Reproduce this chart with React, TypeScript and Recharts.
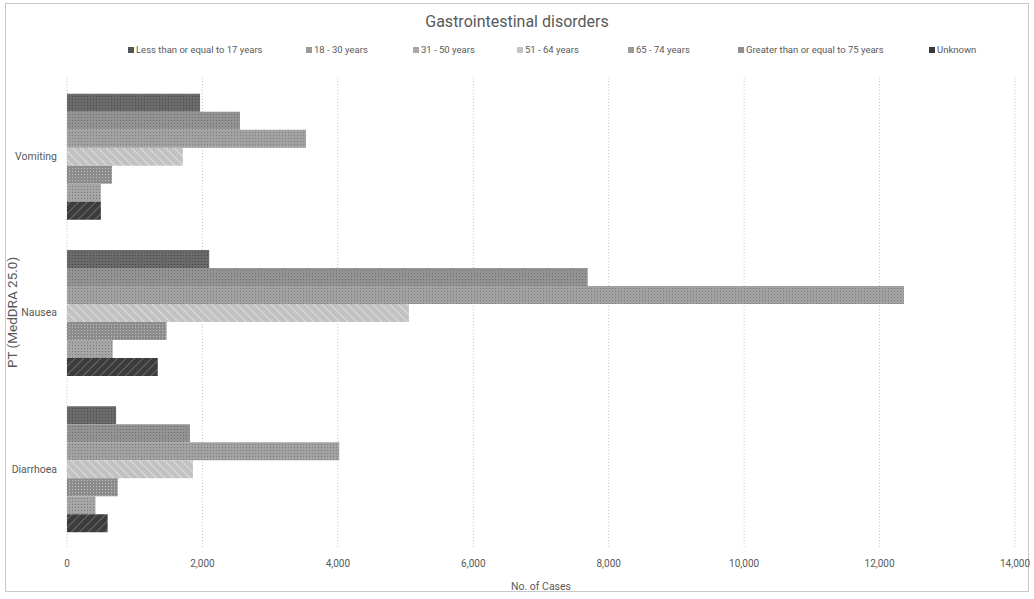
import React from 'react';
import { BarChart, Bar, XAxis, YAxis, CartesianGrid } from 'recharts';

const categories = ['Vomiting', 'Nausea', 'Diarrhoea'];
const seriesNames = [
  'Less than or equal to 17 years',
  '18 - 30 years',
  '31 - 50 years',
  '51 - 64 years',
  '65 - 74 years',
  'Greater than or equal to 75 years',
  'Unknown',
];
const le17 = [500, 1340, 600];
const y18to30 = [500, 675, 420];
const y31to50 = [665, 1470, 750];
const y51to64 = [1710, 5050, 1860];
const y65to74 = [3530, 12360, 4020];
const ge75 = [2555, 7690, 1815];
const unknown = [1965, 2100, 725];
const xTicks = [0, 2000, 4000, 6000, 8000, 10000, 12000, 14000];

const seriesValues = [le17, y18to30, y31to50, y51to64, y65to74, ge75, unknown];
const seriesFills = [
  'url(#pLe17)',
  'url(#p18)',
  'url(#p31)',
  'url(#p51)',
  'url(#p65)',
  'url(#p75)',
  'url(#pUnk)',
];
const legendSwatch = ['#555555', '#9a9a9a', '#a8a8a8', '#c4c4c4', '#9a9a9a', '#8f8f8f', '#3a3a3a'];
const legendX = [128, 306, 413, 517, 628, 738, 929];

const data = categories.map((c, i) => {
  const row: Record<string, string | number> = { name: c };
  seriesNames.forEach((s, j) => {
    row['s' + j] = seriesValues[j][i];
  });
  return row;
});

const FONT = 'Roboto, "Liberation Sans", sans-serif';
const TXT = '#595959';

function Patterns() {
  return (
    <svg width={0} height={0} style={{ position: 'absolute' }}>
      <defs>
        <pattern id="pLe17" width="6" height="6" patternUnits="userSpaceOnUse" patternTransform="rotate(45)">
          <rect width="6" height="6" fill="#3c3c3c" />
          <line x1="0" y1="0" x2="0" y2="6" stroke="#6a6a6a" strokeWidth="2" />
        </pattern>
        <pattern id="p18" width="3" height="3" patternUnits="userSpaceOnUse">
          <rect width="3" height="3" fill="#a6a6a6" />
          <rect width="1" height="1" fill="#7a7a7a" />
        </pattern>
        <pattern id="p31" width="3" height="3" patternUnits="userSpaceOnUse">
          <rect width="3" height="3" fill="#8c8c8c" />
          <rect width="1" height="1" fill="#bdbdbd" />
        </pattern>
        <pattern id="p51" width="6" height="6" patternUnits="userSpaceOnUse" patternTransform="rotate(-45)">
          <rect width="6" height="6" fill="#c2c2c2" />
          <line x1="0" y1="0" x2="0" y2="6" stroke="#dedede" strokeWidth="2" />
        </pattern>
        <pattern id="p65" width="3" height="3" patternUnits="userSpaceOnUse">
          <rect width="3" height="3" fill="#a2a2a2" />
          <rect width="1" height="1" fill="#7c7c7c" />
        </pattern>
        <pattern id="p75" width="3" height="3" patternUnits="userSpaceOnUse">
          <rect width="3" height="3" fill="#939393" />
          <rect width="1" height="1" fill="#6c6c6c" />
        </pattern>
        <pattern id="pUnk" width="3" height="3" patternUnits="userSpaceOnUse">
          <rect width="3" height="3" fill="#6a6a6a" />
          <rect width="1" height="1" fill="#4a4a4a" />
        </pattern>
      </defs>
    </svg>
  );
}

export default function App() {
  const order = [6, 5, 4, 3, 2, 1, 0];
  return (
    <div style={{ position: 'absolute', left: 0, top: 0, width: 1034, height: 599, background: '#fff', fontFamily: FONT }}>
      <Patterns />
      <div
        style={{
          position: 'absolute', left: 5, top: 3, width: 1024, height: 589,
          border: '1px solid #c8c8c8', boxSizing: 'border-box',
        }}
      />
      <div style={{ position: 'absolute', left: 0, width: 1034, top: 12, textAlign: 'center', fontSize: 16, color: TXT }}>
        Gastrointestinal disorders
      </div>
      {seriesNames.map((s, j) => (
        <div key={s} style={{ position: 'absolute', left: legendX[j], top: 44, fontSize: 9.5, color: TXT, whiteSpace: 'nowrap', display: 'flex', alignItems: 'center' }}>
          <span style={{ display: 'inline-block', width: 6, height: 6, background: legendSwatch[j], marginRight: 2 }} />
          {s}
        </div>
      ))}
      <div style={{ position: 'absolute', left: 0, top: 0 }}>
        <BarChart
          width={1034}
          height={599}
          data={data}
          layout="vertical"
          margin={{ top: 78, right: 19, bottom: 0, left: 0 }}
          barCategoryGap="10%"
          barGap={0}
        >
          <CartesianGrid horizontal={false} stroke="#c4c4c4" strokeDasharray="1 2" />
          <XAxis
            type="number"
            domain={[0, 14000]}
            ticks={xTicks}
            tickFormatter={(v: number) => v.toLocaleString('en-US')}
            axisLine={false}
            tickLine={false}
            height={52}
            tick={{ fontSize: 10, fill: TXT, fontFamily: FONT }}
            tickMargin={7}
            label={{ value: 'No. of Cases', position: 'insideBottom', offset: 9, style: { fontSize: 10.5, fill: TXT, fontFamily: FONT } }}
          />
          <YAxis
            type="category"
            dataKey="name"
            width={67}
            axisLine={false}
            tickLine={false}
            tick={{ fontSize: 10.5, fill: TXT, fontFamily: FONT }}
            tickMargin={4}
            label={{ value: 'PT (MedDRA 25.0)', angle: -90, position: 'insideLeft', offset: 12, style: { textAnchor: 'middle', fontSize: 13.5, fill: TXT, fontFamily: FONT } }}
          />
          {order.map((j) => (
            <Bar key={j} dataKey={'s' + j} name={seriesNames[j]} fill={seriesFills[j]} isAnimationActive={false} />
          ))}
        </BarChart>
      </div>
    </div>
  );
}
